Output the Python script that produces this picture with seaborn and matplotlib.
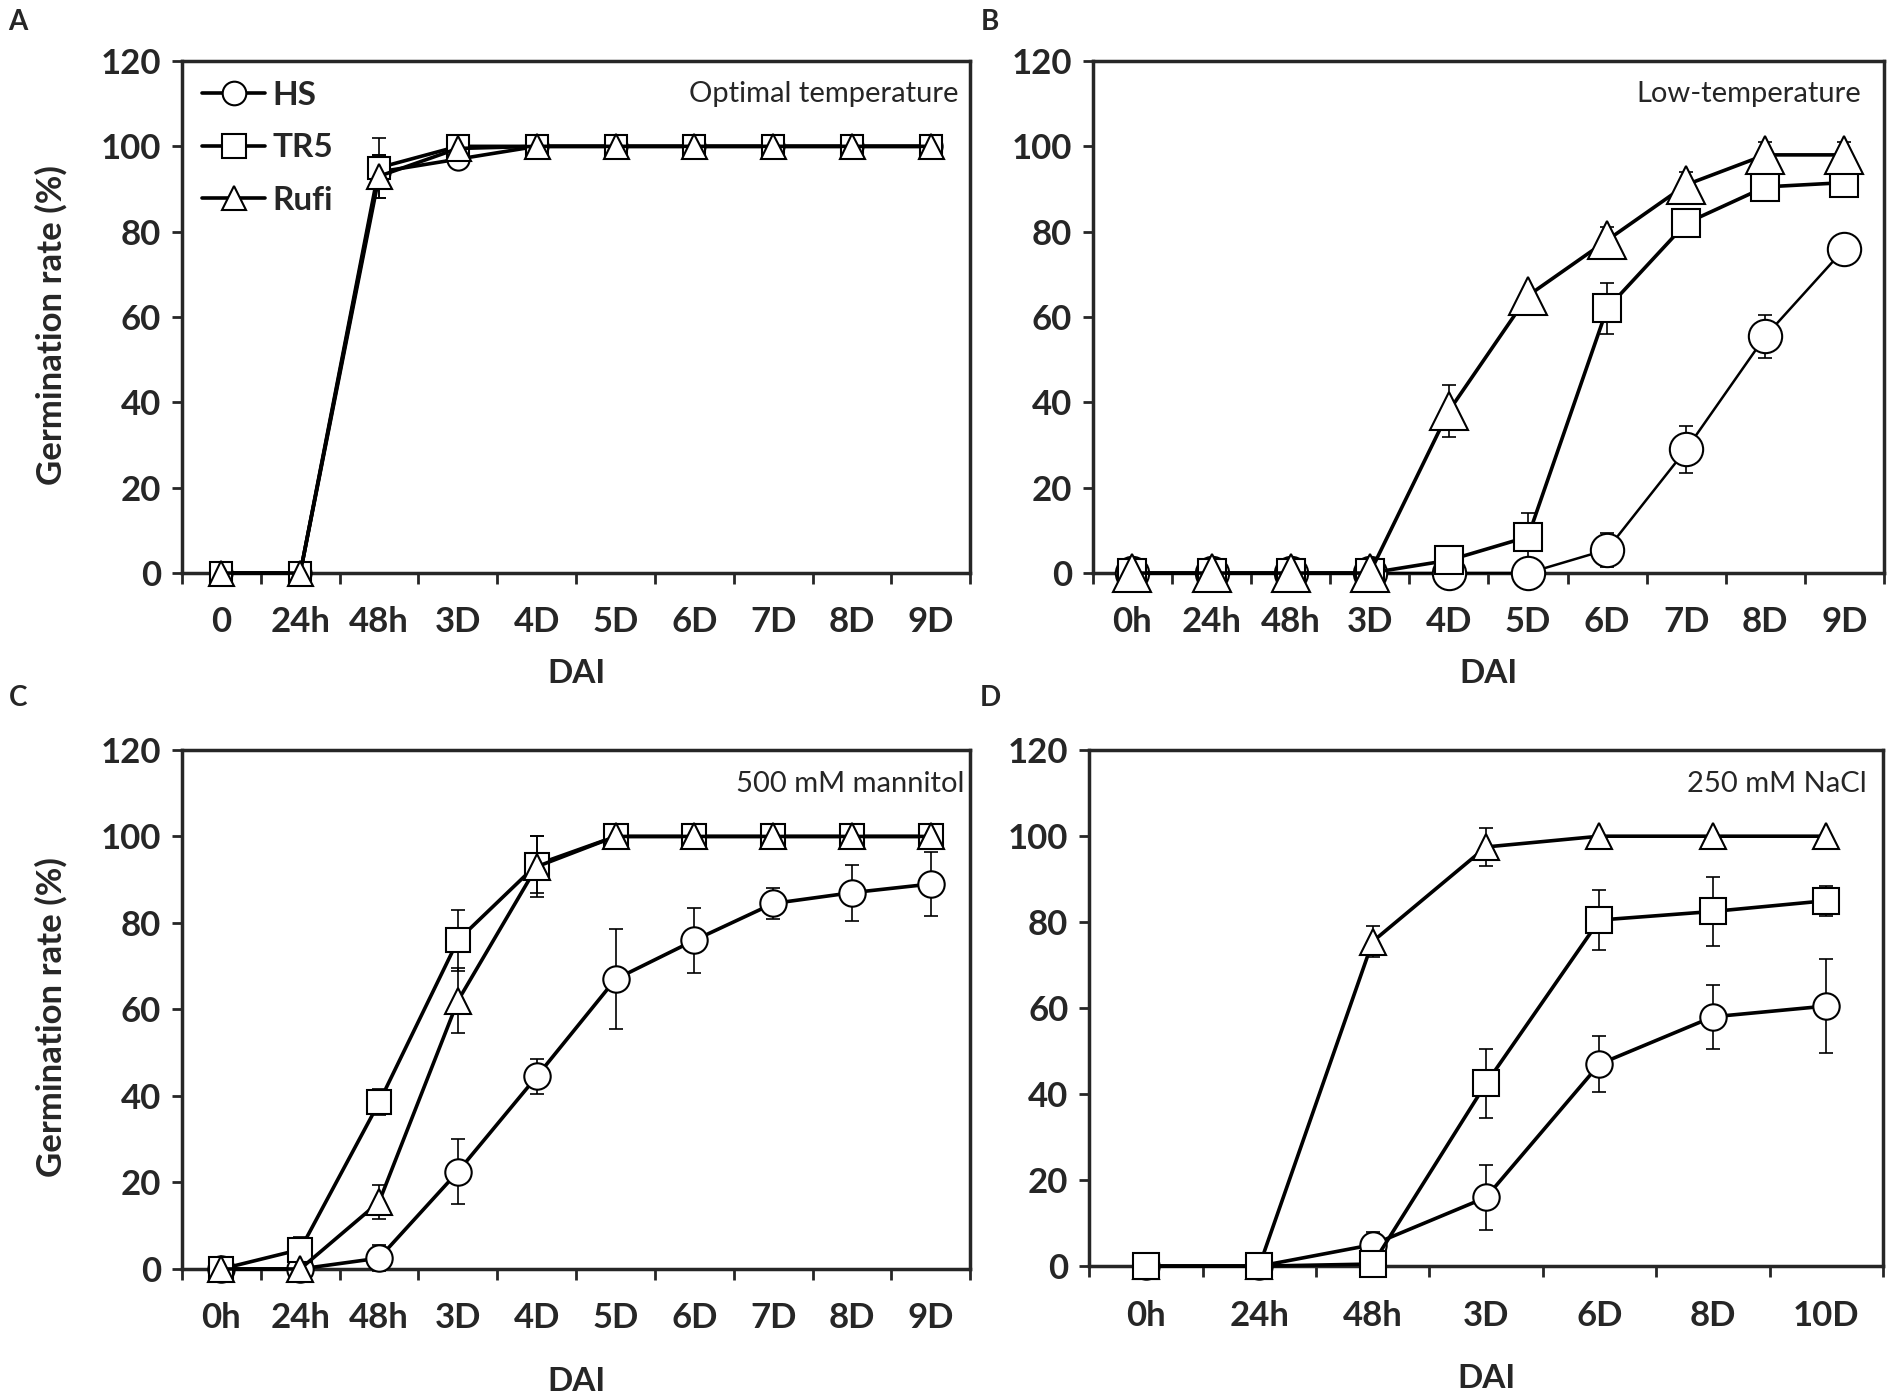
import numpy as np
import matplotlib.pyplot as plt
from matplotlib.lines import Line2D
import seaborn as sns

sns.set_style("ticks")
plt.rcParams['font.family'] = ['Lato', 'DejaVu Sans']
plt.rcParams['font.weight'] = 'bold'

# x categories
a_labels = ['0', '24h', '48h', '3D', '4D', '5D', '6D', '7D', '8D', '9D']
bc_labels = ['0h', '24h', '48h', '3D', '4D', '5D', '6D', '7D', '8D', '9D']
d_labels = ['0h', '24h', '48h', '3D', '6D', '8D', '10D']

# A - optimal temperature
a_hs = [0, 0, 94, 97, 100, 100, 100, 100, 100, 100]
a_hs_err = [0, 0, 4, 0, 0, 0, 0, 0, 0, 0]
a_tr5 = [0, 0, 95, 100, 100, 100, 100, 100, 100, 100]
a_tr5_err = [0, 0, 7, 0, 0, 0, 0, 0, 0, 0]
a_rufi = [0, 0, 93, 99.5, 100, 100, 100, 100, 100, 100]
a_rufi_err = [0, 0, 5, 0, 0, 0, 0, 0, 0, 0]

# B - low temperature
b_hs = [0, 0, 0, 0, 0, 0, 5.5, 29, 55.5, 76]
b_hs_err = [0, 0, 0, 0, 0, 0, 4, 5.5, 5, 0]
b_tr5 = [0, 0, 0, 0, 3, 8.5, 62, 82, 90.5, 91.5]
b_tr5_err = [0, 0, 0, 0, 0, 5.5, 6, 2.5, 0, 2]
b_rufi = [0, 0, 0, 0, 38, 65, 78, 91, 98, 98]
b_rufi_err = [0, 0, 0, 0, 6, 0, 3, 3, 3, 3]

# C - 500 mM mannitol
c_hs = [0, 0, 2.5, 22.5, 44.5, 67, 76, 84.5, 87, 89]
c_hs_err = [0, 0, 3, 7.5, 4, 11.5, 7.5, 3.5, 6.5, 7.5]
c_tr5 = [0, 4.5, 38.5, 76, 93.5, 100, 100, 100, 100, 100]
c_tr5_err = [0, 3, 3, 7, 6.5, 0, 0, 0, 0, 0]
c_rufi = [0, 0, 15.5, 62, 93, 100, 100, 100, 100, 100]
c_rufi_err = [0, 0, 4, 7.5, 7, 0, 0, 0, 0, 0]

# D - 250 mM NaCl
d_hs = [0, 0, 5, 16, 47, 58, 60.5]
d_hs_err = [0, 0, 3, 7.5, 6.5, 7.5, 11]
d_tr5 = [0, 0, 0.5, 42.5, 80.5, 82.5, 85]
d_tr5_err = [0, 0, 0, 8, 7, 8, 3.5]
d_rufi = [0, 0, 75.5, 97.5, 100, 100, 100]
d_rufi_err = [0, 0, 3.5, 4.5, 0, 0, 0]

markers = {'HS': 'o', 'TR5': 's', 'Rufi': '^'}

fig = plt.figure(figsize=(19.04, 13.96), dpi=100)
axA = fig.add_axes([0.0956, 0.5895, 0.414, 0.3668])
axB = fig.add_axes([0.574, 0.5895, 0.4155, 0.3668])
axC = fig.add_axes([0.0956, 0.091, 0.414, 0.3718])
axD = fig.add_axes([0.572, 0.093, 0.417, 0.3696])


def draw_panel(ax, labels, series, cond, cond_x, ms, dai_y, lws=None):
    pos = np.arange(len(labels))
    lws = lws or {}
    for name, vals, errs in series:
        vals = np.array(vals, dtype=float)
        errs = np.array(errs, dtype=float)
        m = errs > 0
        if m.any():
            ax.errorbar(pos[m], vals[m], yerr=errs[m], fmt='none', ecolor='black',
                        elinewidth=1.2, capsize=5, capthick=1.2, zorder=2, clip_on=False)
        sns.lineplot(x=pos, y=vals, ax=ax, color='black', errorbar=None,
                     marker=markers[name], markersize=ms[name],
                     markerfacecolor='white', markeredgecolor='black',
                     markeredgewidth=1.5, linewidth=lws.get(name, 2.6), clip_on=False,
                     legend=False, zorder=3)
    ax.set_xlim(-0.5, len(labels) - 0.5)
    ax.set_ylim(0, 120)
    ax.set_yticks(np.arange(0, 121, 20))
    ax.set_xticks(np.arange(len(labels) + 1) - 0.5)
    ax.set_xticklabels([])
    ax.set_xticks(pos, minor=True)
    ax.set_xticklabels(labels, minor=True)
    ax.tick_params(axis='x', which='major', direction='out', length=8, width=2)
    ax.tick_params(axis='x', which='minor', length=0, pad=24, labelsize=25)
    ax.tick_params(axis='y', direction='out', length=7, width=2, pad=8, labelsize=25)
    for s in ax.spines.values():
        s.set_linewidth(2.5)
        s.set_visible(True)
    ax.set_xlabel('DAI', fontsize=24, fontweight='bold')
    ax.xaxis.set_label_coords(0.5, dai_y)
    ax.text(cond_x, 0.935, cond, transform=ax.transAxes, ha='right', va='center',
            fontsize=21, fontweight='normal')


draw_panel(axA, a_labels,
           [('HS', a_hs, a_hs_err), ('TR5', a_tr5, a_tr5_err), ('Rufi', a_rufi, a_rufi_err)],
           'Optimal temperature', 0.985, {'HS': 16, 'TR5': 16, 'Rufi': 18}, -0.168)
draw_panel(axB, bc_labels,
           [('HS', b_hs, b_hs_err), ('TR5', b_tr5, b_tr5_err), ('Rufi', b_rufi, b_rufi_err)],
           'Low-temperature', 0.971, {'HS': 24, 'TR5': 20, 'Rufi': 27}, -0.168,
           lws={'HS': 1.8})
draw_panel(axC, bc_labels,
           [('HS', c_hs, c_hs_err), ('TR5', c_tr5, c_tr5_err), ('Rufi', c_rufi, c_rufi_err)],
           '500 mM mannitol', 0.992, {'HS': 19, 'TR5': 17, 'Rufi': 19}, -0.189)
draw_panel(axD, d_labels,
           [('Rufi', d_rufi, d_rufi_err), ('HS', d_hs, d_hs_err), ('TR5', d_tr5, d_tr5_err)],
           '250 mM NaCl', 0.979, {'HS': 19, 'TR5': 19, 'Rufi': 19}, -0.189)

for ax in (axA, axC):
    ax.set_ylabel('Germination rate (%)', fontsize=25, fontweight='bold')
    ax.yaxis.set_label_coords(-0.145, 0.485)

handles = [Line2D([], [], color='black', lw=2.6, marker=markers[n], ms=17,
                  mfc='white', mec='black', mew=1.5) for n in ['HS', 'TR5', 'Rufi']]
axA.legend(handles, ['HS', 'TR5', 'Rufi'], loc='upper left', frameon=False,
           fontsize=24, handlelength=1.9, handletextpad=0.2, labelspacing=0.7,
           borderaxespad=0.3, borderpad=0.3)

for letter, x, y in [('A', 0.0095, 0.984), ('B', 0.52, 0.984), ('C', 0.0095, 0.5), ('D', 0.52, 0.5)]:
    fig.text(x, y, letter, ha='center', va='center', fontsize=20, fontweight='bold')

fig.savefig('out.png', dpi=100)
